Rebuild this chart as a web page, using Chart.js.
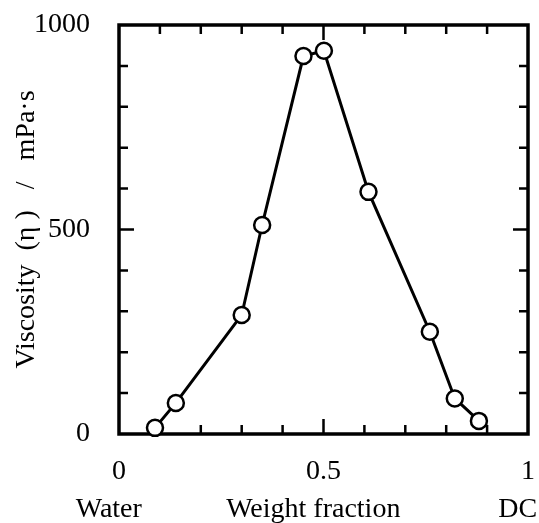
<!DOCTYPE html>
<html>
<head>
<meta charset="utf-8">
<script src="https://cdn.jsdelivr.net/npm/chart.js@4/dist/chart.umd.min.js"></script>
<style>
  body { margin: 0; background: #fff; }
</style>
</head>
<body>
<canvas id="chart" width="539" height="523"></canvas>
<script>
// weight fraction of DC vs viscosity
const weightFraction = [0.088, 0.139, 0.30, 0.350, 0.451, 0.501, 0.61, 0.760, 0.821, 0.880];
const viscosity      = [15, 76, 291, 511, 924, 937, 592, 250, 87, 32];

const bottomLabels   = ['Water', 'Weight fraction', 'DC'];
const bottomLabelAt  = [-0.025, 0.475, 0.975];

const FONT = 'Liberation Serif';

// keep the plot box where it is, labels may hang over
function fixBox(s, w, h) {
    if (w) s.width = w;
    if (h) s.height = h;
    s.paddingLeft = s.paddingRight = s.paddingTop = s.paddingBottom = 0;
}

// inward ticks + frame, like the original plot
const framePlugin = {
    id: 'frame',
    beforeDatasetsDraw(chart) {
        const { ctx, chartArea: a, scales } = chart;
        ctx.save();
        ctx.strokeStyle = '#000';
        ctx.lineWidth = 2.5;
        for (let i = 1; i < 10; i++) {
            const len = i === 5 ? 15 : 9;
            const px = scales.x.getPixelForValue(i / 10);
            const py = scales.y.getPixelForValue(i * 100);
            ctx.beginPath();
            ctx.moveTo(px, a.bottom); ctx.lineTo(px, a.bottom - len);
            ctx.moveTo(px, a.top); ctx.lineTo(px, a.top + len);
            ctx.moveTo(a.left, py); ctx.lineTo(a.left + len, py);
            ctx.moveTo(a.right, py); ctx.lineTo(a.right - len, py);
            ctx.stroke();
        }
        ctx.lineWidth = 3.5;
        ctx.strokeRect(a.left, a.top, a.right - a.left, a.bottom - a.top);
        ctx.restore();
    }
};

new Chart(document.getElementById('chart').getContext('2d'), {
    type: 'scatter',
    data: {
        datasets: [{
            data: weightFraction.map((x, i) => ({ x: x, y: viscosity[i] })),
            showLine: true,
            borderColor: '#000',
            borderWidth: 3,
            pointRadius: 8,
            pointBorderWidth: 2.5,
            pointBackgroundColor: '#fff',
            pointBorderColor: '#000',
            clip: false
        }]
    },
    options: {
        responsive: false,
        animation: false,
        layout: { padding: { left: 0, right: 11, top: 25, bottom: 0 } },
        plugins: {
            legend: { display: false },
            tooltip: { enabled: false }
        },
        scales: {
            x: {
                type: 'linear',
                position: 'bottom',
                min: 0, max: 1,
                afterFit: s => fixBox(s, 0, 50),
                grid: { display: false },
                border: { display: false },
                ticks: {
                    stepSize: 0.5,
                    padding: 13,
                    color: '#000',
                    font: { family: FONT, size: 28 },
                    callback: v => String(v)
                }
            },
            x2: {
                type: 'linear',
                position: 'bottom',
                min: 0, max: 1,
                afterFit: s => fixBox(s, 0, 39),
                afterBuildTicks: s => { s.ticks = bottomLabelAt.map(v => ({ value: v })); },
                grid: { display: false },
                border: { display: false },
                ticks: {
                    padding: 1,
                    color: '#000',
                    font: { family: FONT, size: 28 },
                    callback: (v, i) => bottomLabels[i]
                }
            },
            y: {
                min: 0, max: 1000,
                afterFit: s => fixBox(s, 119, 0),
                grid: { display: false },
                border: { display: false },
                ticks: {
                    stepSize: 500,
                    padding: 21,
                    color: '#000',
                    font: { family: FONT, size: 28 },
                    callback: v => String(v)
                },
                title: {
                    display: true,
                    text: 'Viscosity  (η )   /   mPa·s',
                    color: '#000',
                    font: { family: FONT, size: 28 },
                    padding: { top: 10, bottom: 0 }
                }
            }
        }
    },
    plugins: [framePlugin]
});
</script>
</body>
</html>
